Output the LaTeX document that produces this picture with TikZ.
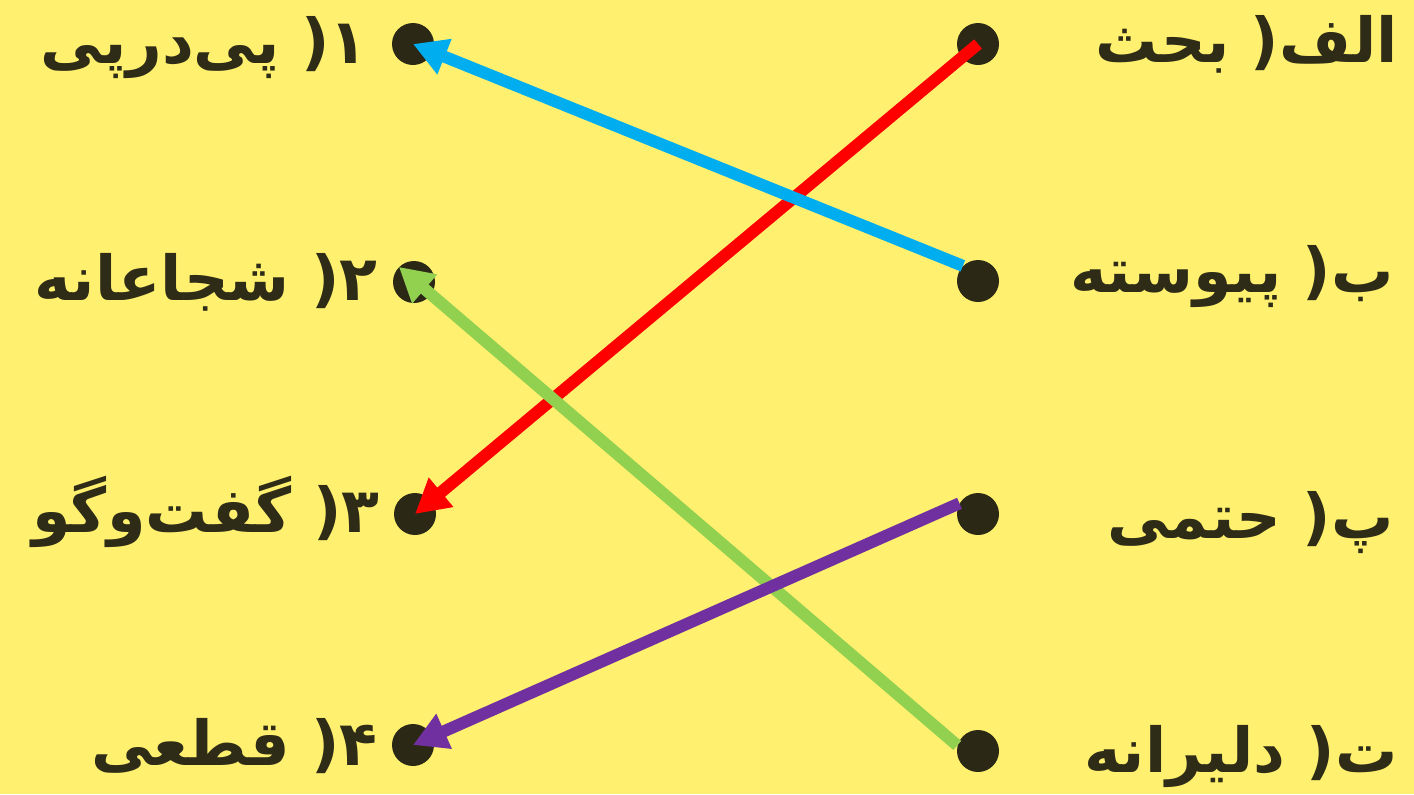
\documentclass[tikz,border=0pt]{standalone}
\usepackage{fontspec}
\usetikzlibrary{arrows.meta}
\TeXXeTstate=1
\newfontfamily\arabicfont[Script=Arabic]{DejaVu Sans}
\definecolor{bgcol}{HTML}{FFF16F}
\definecolor{dotcol}{HTML}{2B2915}
\definecolor{txtcol}{HTML}{2E2B17}
\definecolor{redc}{HTML}{FF0000}
\definecolor{bluec}{HTML}{00AEEF}
\definecolor{greenc}{HTML}{92D050}
\definecolor{purplec}{HTML}{7030A0}
\tikzset{
  dotnode/.style={circle, fill=dotcol, inner sep=0pt, minimum size=21pt},
  lbl/.style={font=\arabicfont\bfseries\fontsize{31}{36}\selectfont, text=txtcol, inner sep=0pt},
  arr/.style={line width=6pt, -{Triangle[length=17pt,width=18pt]}}
}
\begin{document}
\begin{tikzpicture}[x=0.5pt,y=-0.5pt]
\fill[bgcol] (0,0) rectangle (1414,794);
\useasboundingbox (0,0) rectangle (1414,794);
% dots
\node[dotnode] (r1) at (978,44) {};
\node[dotnode] (r2) at (978,281) {};
\node[dotnode] (r3) at (978,514) {};
\node[dotnode] (r4) at (978,751) {};
\node[dotnode] (l1) at (413,44) {};
\node[dotnode] (l2) at (414,282) {};
\node[dotnode] (l3) at (415,514) {};
\node[dotnode] (l4) at (413,745) {};
% right labels
\node[lbl, anchor=base east] (ta) at (1398,62) {\beginR الف( بحث\endR};
\node[lbl, anchor=base east] (tb) at (1394,292) {\beginR ب( پیوسته\endR};
\node[lbl, anchor=base east] (tp) at (1394,538) {\beginR پ( حتمی\endR};
\node[lbl, anchor=base east] (tt) at (1398,772) {\beginR ت( دلیرانه\endR};
% left labels
\node[lbl, anchor=base east] (t1) at (368,63) {\beginR ۱( پی‌درپی\endR};
\node[lbl, anchor=base east] (t2) at (378,300) {\beginR ۲( شجاعانه\endR};
\node[lbl, anchor=base east] (t3) at (380,532) {\beginR ۳( گفت‌وگو\endR};
\node[lbl, anchor=base east] (t4) at (378,765) {\beginR ۴( قطعی\endR};
% arrows
\draw[arr, redc] (r1.center) -- (l3.center);
\draw[arr, bluec] (r2.north west) -- (l1.center);
\draw[arr, greenc] (r4.165) -- (l2.north west);
\draw[arr, purplec] (r3.150) -- (l4.center);
\end{tikzpicture}
\end{document}
